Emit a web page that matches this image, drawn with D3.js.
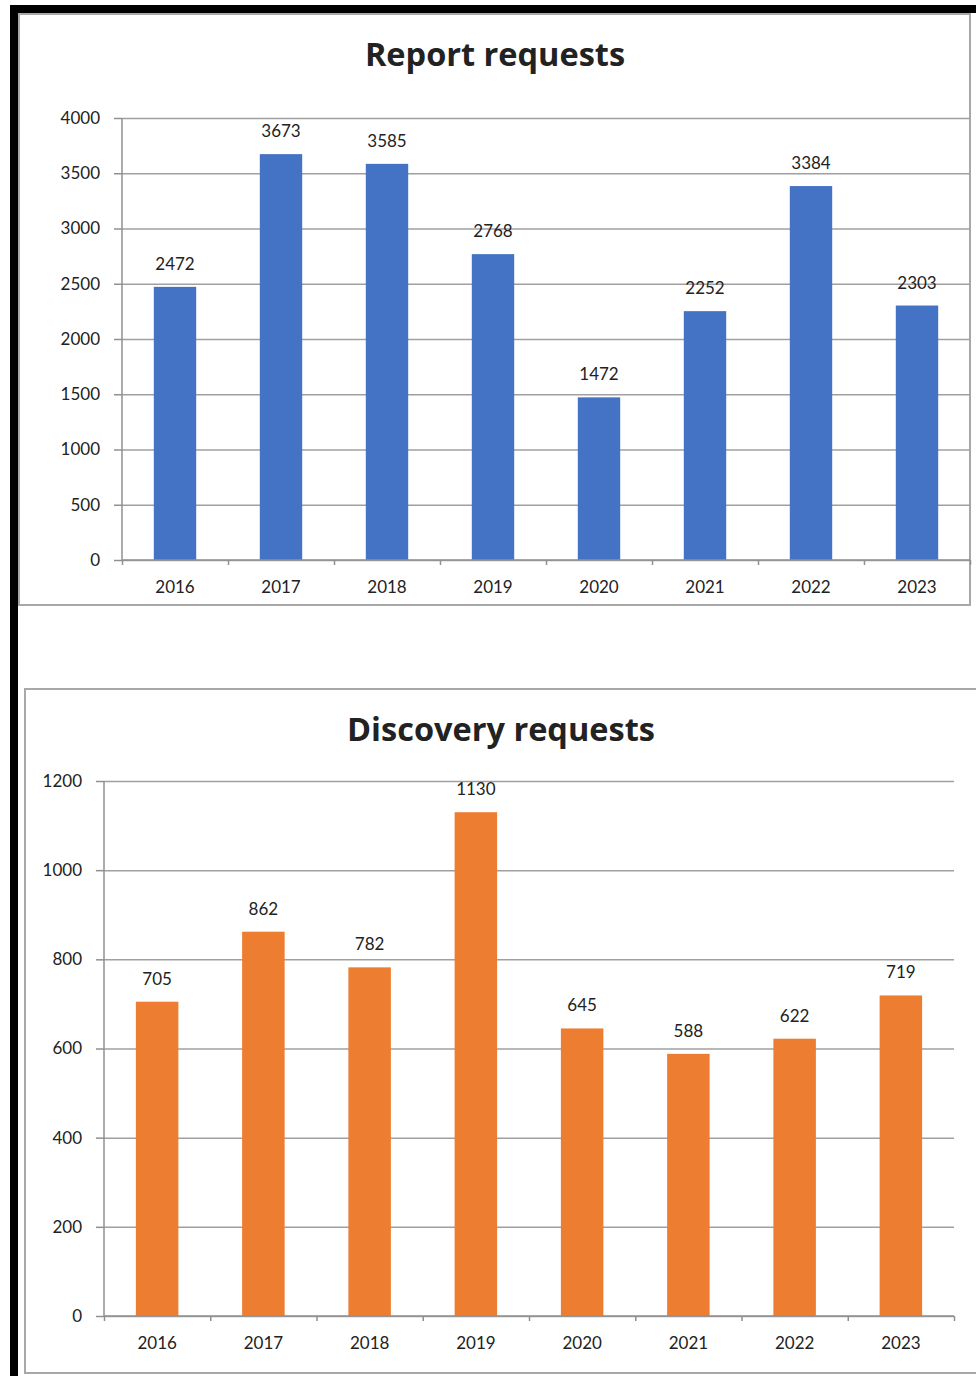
<!DOCTYPE html>
<html>
<head>
<meta charset="utf-8">
<script src="https://cdn.jsdelivr.net/npm/d3@7"></script>
<style>
  body { margin:0; background:#fff; }
  svg text { fill:#222; }
</style>
</head>
<body>
<div id="canvas"></div>
<script>
// data
var years = ['2016','2017','2018','2019','2020','2021','2022','2023'];
var reportRequests = [2472,3673,3585,2768,1472,2252,3384,2303];
var discoveryRequests = [705,862,782,1130,645,588,622,719];
var reportTicks = [0,500,1000,1500,2000,2500,3000,3500,4000];
var discoveryTicks = [0,200,400,600,800,1000,1200];

var W = 976, H = 1376;
var svg = d3.select('#canvas').append('svg')
    .attr('width', W).attr('height', H);

// black frame on left and top
svg.append('rect').attr('x',10).attr('y',5).attr('width',8).attr('height',H-5).attr('fill','#000');
svg.append('rect').attr('x',10).attr('y',5).attr('width',W-10).attr('height',8).attr('fill','#000');

function drawChart(cfg) {
    var g = svg.append('g');

    // panel border
    g.append('rect')
        .attr('x', cfg.box[0]).attr('y', cfg.box[1])
        .attr('width', cfg.box[2]).attr('height', cfg.box[3])
        .attr('fill','#fff').attr('stroke','#a8a8a8').attr('stroke-width',2);

    var x = d3.scaleBand()
        .domain(years)
        .range([cfg.x0, cfg.x1])
        .paddingInner(0.6).paddingOuter(0.3);
    var xEdge = d3.scaleLinear().domain([0, years.length]).range([cfg.x0, cfg.x1]);
    var y = d3.scaleLinear().domain([0, cfg.max]).range([cfg.y0, cfg.y1]);

    // gridlines
    g.append('g')
        .attr('transform','translate(' + cfg.x0 + ',0)')
        .call(d3.axisLeft(y).tickValues(cfg.ticks).tickSize(-(cfg.x1 - cfg.x0)).tickFormat(''))
        .call(function(a){
            a.select('.domain').remove();
            a.selectAll('line').attr('stroke','#a0a0a0').attr('stroke-width',1.5);
        });

    // bars
    g.selectAll('.bar')
        .data(cfg.values)
        .enter()
        .append('rect')
        .attr('class','bar')
        .attr('x', function(d,i){ return x(years[i]); })
        .attr('y', function(d){ return y(d); })
        .attr('width', x.bandwidth())
        .attr('height', function(d){ return cfg.y0 - y(d); })
        .attr('fill', cfg.color);

    // data labels
    g.selectAll('.lbl')
        .data(cfg.values)
        .enter()
        .append('text')
        .attr('x', function(d,i){ return x(years[i]) + x.bandwidth()/2; })
        .attr('y', function(d){ return y(d) - 17; })
        .attr('text-anchor','middle')
        .style('font-family','Lato, sans-serif')
        .style('font-size','17px')
        .text(function(d){ return d; });

    // y axis
    g.append('g')
        .attr('transform','translate(' + cfg.x0 + ',0)')
        .call(d3.axisLeft(y).tickValues(cfg.ticks).tickSize(8).tickPadding(14).tickFormat(d3.format('d')))
        .call(function(a){
            a.select('.domain').attr('stroke','#909090').attr('stroke-width',1.5).attr('d','M0,' + cfg.y1 + 'V' + cfg.y0);
            a.selectAll('line').attr('stroke','#909090').attr('stroke-width',1.5);
            a.selectAll('text').style('font-size','17px').style('font-family','Lato, sans-serif').attr('fill','#222');
        });

    // x axis: line + boundary ticks
    g.append('g')
        .attr('transform','translate(0,' + cfg.y0 + ')')
        .call(d3.axisBottom(xEdge).ticks(years.length).tickSize(5).tickFormat(''))
        .call(function(a){
            a.select('.domain').attr('stroke','#909090').attr('stroke-width',1.5).attr('d','M' + cfg.x0 + ',0H' + cfg.x1);
            a.selectAll('line').attr('stroke','#909090').attr('stroke-width',1.5);
        });

    g.append('g')
        .attr('transform','translate(0,' + cfg.y0 + ')')
        .call(d3.axisBottom(x).tickSize(0).tickPadding(21))
        .call(function(a){
            a.select('.domain').remove();
            a.selectAll('text').style('font-size','17px').style('font-family','Lato, sans-serif').attr('fill','#222');
        });

    // title
    g.append('text')
        .attr('x', cfg.titleX).attr('y', cfg.titleY)
        .attr('text-anchor','middle')
        .style('font-size','32.5px')
        .style('font-weight','bold')
        .style('font-family','"Open Sans", sans-serif')
        .attr('fill','#111')
        .text(cfg.title);
}

drawChart({
    box:[19,14,951,591],
    x0:122, x1:970, y0:560, y1:118,
    max:4000, ticks:reportTicks, values:reportRequests,
    color:'#4472C4', title:'Report requests', titleX:495, titleY:66
});

drawChart({
    box:[25,689,960,684],
    x0:104, x1:954, y0:1316, y1:781,
    max:1200, ticks:discoveryTicks, values:discoveryRequests,
    color:'#ED7D31', title:'Discovery requests', titleX:501, titleY:741
});
</script>
</body>
</html>
